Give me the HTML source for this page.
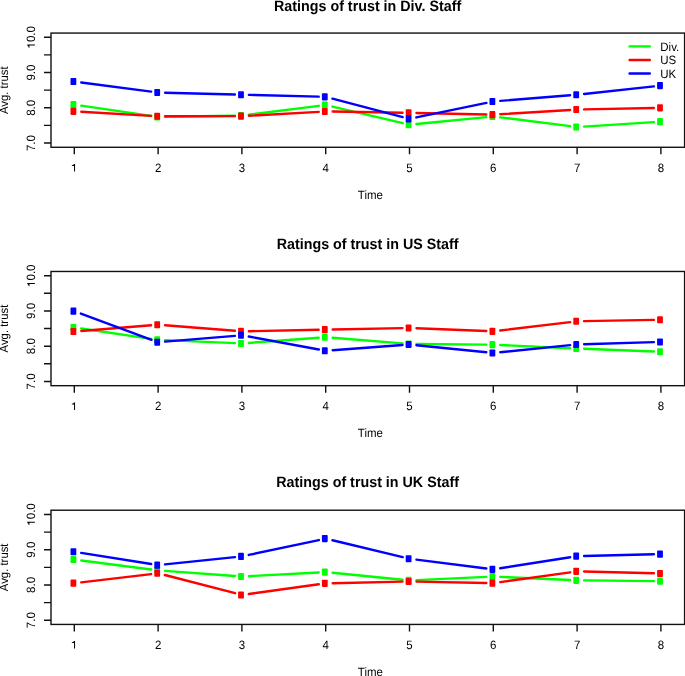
<!DOCTYPE html>
<html><head><meta charset="utf-8"><style>html,body{margin:0;padding:0;background:#fff;width:685px;height:676px;overflow:hidden}</style></head><body>
<svg width="685" height="676" viewBox="0 0 685 676" style="position:absolute;left:0;top:0;will-change:transform;text-rendering:geometricPrecision">
<rect x="0" y="0" width="685" height="676" fill="#fff"/>
<text transform="translate(367.6 10.5) scale(1 1.05)" font-family='"Liberation Sans", sans-serif' font-weight="bold" font-size="14.3" text-anchor="middle" fill="#000">Ratings of trust in Div. Staff</text>
<path d="M81.23 105.66L151.17 115.89M165.1 116.79L234.9 115.71M248.84 114.72L318.76 105.83M332.51 106.56L402.69 123.14M416.47 124.06L486.33 117.14M500.24 117.33L570.16 126.17M584.09 126.6L653.91 122.1" stroke="#00ff00" stroke-width="2.4" stroke-linecap="round" fill="none"/>
<rect x="70.5" y="101.1" width="5.8" height="7.1" rx="0.8" fill="#00ff00"/>
<rect x="154.3" y="113.35" width="5.8" height="7.1" rx="0.8" fill="#00ff00"/>
<rect x="238.1" y="112.05" width="5.8" height="7.1" rx="0.8" fill="#00ff00"/>
<rect x="321.9" y="101.4" width="5.8" height="7.1" rx="0.8" fill="#00ff00"/>
<rect x="405.7" y="121.2" width="5.8" height="7.1" rx="0.8" fill="#00ff00"/>
<rect x="489.5" y="112.9" width="5.8" height="7.1" rx="0.8" fill="#00ff00"/>
<rect x="573.3" y="123.5" width="5.8" height="7.1" rx="0.8" fill="#00ff00"/>
<rect x="657.1" y="118.1" width="5.8" height="7.1" rx="0.8" fill="#00ff00"/>
<path d="M81.29 111.76L151.11 115.84M165.1 116.24L234.9 116.16M248.89 115.76L318.71 111.84M332.7 111.57L402.5 112.73M416.5 113L486.3 114.5M500.29 114.22L570.11 109.98M584.1 109.41L653.9 107.99" stroke="#ff0000" stroke-width="2.4" stroke-linecap="round" fill="none"/>
<rect x="70.5" y="107.8" width="5.8" height="7.1" rx="0.8" fill="#ff0000"/>
<rect x="154.3" y="112.7" width="5.8" height="7.1" rx="0.8" fill="#ff0000"/>
<rect x="238.1" y="112.6" width="5.8" height="7.1" rx="0.8" fill="#ff0000"/>
<rect x="321.9" y="107.9" width="5.8" height="7.1" rx="0.8" fill="#ff0000"/>
<rect x="405.7" y="109.3" width="5.8" height="7.1" rx="0.8" fill="#ff0000"/>
<rect x="489.5" y="111.1" width="5.8" height="7.1" rx="0.8" fill="#ff0000"/>
<rect x="573.3" y="106" width="5.8" height="7.1" rx="0.8" fill="#ff0000"/>
<rect x="657.1" y="104.3" width="5.8" height="7.1" rx="0.8" fill="#ff0000"/>
<path d="M81.24 82.46L151.16 91.64M165.1 92.73L234.9 94.52M248.9 94.88L318.7 96.67M332.47 98.63L402.73 117.07M416.35 117.43L486.45 102.87M500.28 100.89L570.12 95.26M584.06 93.94L653.94 86.36" stroke="#0000ff" stroke-width="2.4" stroke-linecap="round" fill="none"/>
<rect x="70.5" y="78" width="5.8" height="7.1" rx="0.8" fill="#0000ff"/>
<rect x="154.3" y="89" width="5.8" height="7.1" rx="0.8" fill="#0000ff"/>
<rect x="238.1" y="91.15" width="5.8" height="7.1" rx="0.8" fill="#0000ff"/>
<rect x="321.9" y="93.3" width="5.8" height="7.1" rx="0.8" fill="#0000ff"/>
<rect x="405.7" y="115.3" width="5.8" height="7.1" rx="0.8" fill="#0000ff"/>
<rect x="489.5" y="97.9" width="5.8" height="7.1" rx="0.8" fill="#0000ff"/>
<rect x="573.3" y="91.15" width="5.8" height="7.1" rx="0.8" fill="#0000ff"/>
<rect x="657.1" y="82.05" width="5.8" height="7.1" rx="0.8" fill="#0000ff"/>
<rect x="51" y="33.07" width="633.6" height="114.21" fill="none" stroke="#111" stroke-width="1.4"/>
<path d="M74.3 147.28V154.28M158.1 147.28V154.28M241.9 147.28V154.28M325.7 147.28V154.28M409.5 147.28V154.28M493.3 147.28V154.28M577.1 147.28V154.28M660.9 147.28V154.28M44 37.3H51M44 54.92H51M44 72.55H51M44 90.17H51M44 107.8H51M44 125.42H51M44 143.05H51" stroke="#111" stroke-width="1.4" fill="none"/>
<path transform="translate(74.3 171.6)" d="M-0.25 -7.7L0.75 -7.7L0.75 -0.1L-0.25 -0.1L-0.25 -5.55L-2.45 -5.55L-2.45 -6.35L-1.25 -6.6Z" fill="#000"/>
<text transform="translate(158.1 171.6) scale(1 1.05)" font-family='"Liberation Sans", sans-serif' font-size="11.5" text-anchor="middle" fill="#000">2</text>
<text transform="translate(241.9 171.6) scale(1 1.05)" font-family='"Liberation Sans", sans-serif' font-size="11.5" text-anchor="middle" fill="#000">3</text>
<text transform="translate(325.7 171.6) scale(1 1.05)" font-family='"Liberation Sans", sans-serif' font-size="11.5" text-anchor="middle" fill="#000">4</text>
<text transform="translate(409.5 171.6) scale(1 1.05)" font-family='"Liberation Sans", sans-serif' font-size="11.5" text-anchor="middle" fill="#000">5</text>
<text transform="translate(493.3 171.6) scale(1 1.05)" font-family='"Liberation Sans", sans-serif' font-size="11.5" text-anchor="middle" fill="#000">6</text>
<text transform="translate(577.1 171.6) scale(1 1.05)" font-family='"Liberation Sans", sans-serif' font-size="11.5" text-anchor="middle" fill="#000">7</text>
<text transform="translate(660.9 171.6) scale(1 1.05)" font-family='"Liberation Sans", sans-serif' font-size="11.5" text-anchor="middle" fill="#000">8</text>
<g transform="translate(35 37.3) rotate(-90)"><path transform="translate(-7.99 0)" d="M-0.25 -7.7L0.75 -7.7L0.75 -0.1L-0.25 -0.1L-0.25 -5.55L-2.45 -5.55L-2.45 -6.35L-1.25 -6.6Z" fill="#000"/><text transform="translate(-4.8 0) scale(1 1.05)" font-family='"Liberation Sans", sans-serif' font-size="11.5" fill="#000">0.0</text></g>
<text transform="translate(35 72.55) rotate(-90) scale(1 1.05)" font-family='"Liberation Sans", sans-serif' font-size="11.5" text-anchor="middle" fill="#000">9.0</text>
<text transform="translate(35 107.8) rotate(-90) scale(1 1.05)" font-family='"Liberation Sans", sans-serif' font-size="11.5" text-anchor="middle" fill="#000">8.0</text>
<text transform="translate(35 143.05) rotate(-90) scale(1 1.05)" font-family='"Liberation Sans", sans-serif' font-size="11.5" text-anchor="middle" fill="#000">7.0</text>
<text transform="translate(370.4 198.6) scale(1 1.05)" font-family='"Liberation Sans", sans-serif' font-size="11.5" text-anchor="middle" fill="#000">Time</text>
<text transform="translate(8.4 90.18) rotate(-90) scale(1 1.05)" font-family='"Liberation Sans", sans-serif' font-size="11.35" text-anchor="middle" fill="#000">Avg. trust</text>
<text transform="translate(367.6 249) scale(1 1.05)" font-family='"Liberation Sans", sans-serif' font-weight="bold" font-size="14.3" text-anchor="middle" fill="#000">Ratings of trust in US Staff</text>
<path d="M81.22 328.47L151.18 338.83M165.09 340.15L234.91 343.15M248.88 342.93L318.72 337.77M332.68 337.81L402.52 343.39M416.5 344.01L486.3 344.59M500.29 344.98L570.11 348.22M584.09 348.82L653.91 351.48" stroke="#00ff00" stroke-width="2.4" stroke-linecap="round" fill="none"/>
<rect x="70.5" y="323.9" width="5.8" height="7.1" rx="0.8" fill="#00ff00"/>
<rect x="154.3" y="336.3" width="5.8" height="7.1" rx="0.8" fill="#00ff00"/>
<rect x="238.1" y="339.9" width="5.8" height="7.1" rx="0.8" fill="#00ff00"/>
<rect x="321.9" y="333.7" width="5.8" height="7.1" rx="0.8" fill="#00ff00"/>
<rect x="405.7" y="340.4" width="5.8" height="7.1" rx="0.8" fill="#00ff00"/>
<rect x="489.5" y="341.1" width="5.8" height="7.1" rx="0.8" fill="#00ff00"/>
<rect x="573.3" y="345" width="5.8" height="7.1" rx="0.8" fill="#00ff00"/>
<rect x="657.1" y="348.2" width="5.8" height="7.1" rx="0.8" fill="#00ff00"/>
<path d="M81.28 330.98L151.12 325.32M165.08 325.3L234.92 330.8M248.9 331.21L318.7 329.79M332.7 329.51L402.5 328.09M416.49 328.23L486.31 331.07M500.25 330.51L570.15 322.09M584.1 321.12L653.9 319.88" stroke="#ff0000" stroke-width="2.4" stroke-linecap="round" fill="none"/>
<rect x="70.5" y="328" width="5.8" height="7.1" rx="0.8" fill="#ff0000"/>
<rect x="154.3" y="321.2" width="5.8" height="7.1" rx="0.8" fill="#ff0000"/>
<rect x="238.1" y="327.8" width="5.8" height="7.1" rx="0.8" fill="#ff0000"/>
<rect x="321.9" y="326.1" width="5.8" height="7.1" rx="0.8" fill="#ff0000"/>
<rect x="405.7" y="324.4" width="5.8" height="7.1" rx="0.8" fill="#ff0000"/>
<rect x="489.5" y="327.8" width="5.8" height="7.1" rx="0.8" fill="#ff0000"/>
<rect x="573.3" y="317.7" width="5.8" height="7.1" rx="0.8" fill="#ff0000"/>
<rect x="657.1" y="316.2" width="5.8" height="7.1" rx="0.8" fill="#ff0000"/>
<path d="M80.86 313.59L151.54 339.81M165.08 341.67L234.92 335.83M248.78 336.52L318.82 349.48M332.68 350.23L402.52 345.02M416.46 345.2L486.34 352.25M500.26 352.24L570.14 345.16M584.1 344.24L653.9 342.16" stroke="#0000ff" stroke-width="2.4" stroke-linecap="round" fill="none"/>
<rect x="70.5" y="307.6" width="5.8" height="7.1" rx="0.8" fill="#0000ff"/>
<rect x="154.3" y="338.7" width="5.8" height="7.1" rx="0.8" fill="#0000ff"/>
<rect x="238.1" y="331.7" width="5.8" height="7.1" rx="0.8" fill="#0000ff"/>
<rect x="321.9" y="347.2" width="5.8" height="7.1" rx="0.8" fill="#0000ff"/>
<rect x="405.7" y="340.95" width="5.8" height="7.1" rx="0.8" fill="#0000ff"/>
<rect x="489.5" y="349.4" width="5.8" height="7.1" rx="0.8" fill="#0000ff"/>
<rect x="573.3" y="340.9" width="5.8" height="7.1" rx="0.8" fill="#0000ff"/>
<rect x="657.1" y="338.4" width="5.8" height="7.1" rx="0.8" fill="#0000ff"/>
<rect x="51" y="271.47" width="633.6" height="114.21" fill="none" stroke="#111" stroke-width="1.4"/>
<path d="M74.3 385.68V392.68M158.1 385.68V392.68M241.9 385.68V392.68M325.7 385.68V392.68M409.5 385.68V392.68M493.3 385.68V392.68M577.1 385.68V392.68M660.9 385.68V392.68M44 275.7H51M44 293.32H51M44 310.95H51M44 328.57H51M44 346.2H51M44 363.82H51M44 381.45H51" stroke="#111" stroke-width="1.4" fill="none"/>
<path transform="translate(74.3 410.1)" d="M-0.25 -7.7L0.75 -7.7L0.75 -0.1L-0.25 -0.1L-0.25 -5.55L-2.45 -5.55L-2.45 -6.35L-1.25 -6.6Z" fill="#000"/>
<text transform="translate(158.1 410.1) scale(1 1.05)" font-family='"Liberation Sans", sans-serif' font-size="11.5" text-anchor="middle" fill="#000">2</text>
<text transform="translate(241.9 410.1) scale(1 1.05)" font-family='"Liberation Sans", sans-serif' font-size="11.5" text-anchor="middle" fill="#000">3</text>
<text transform="translate(325.7 410.1) scale(1 1.05)" font-family='"Liberation Sans", sans-serif' font-size="11.5" text-anchor="middle" fill="#000">4</text>
<text transform="translate(409.5 410.1) scale(1 1.05)" font-family='"Liberation Sans", sans-serif' font-size="11.5" text-anchor="middle" fill="#000">5</text>
<text transform="translate(493.3 410.1) scale(1 1.05)" font-family='"Liberation Sans", sans-serif' font-size="11.5" text-anchor="middle" fill="#000">6</text>
<text transform="translate(577.1 410.1) scale(1 1.05)" font-family='"Liberation Sans", sans-serif' font-size="11.5" text-anchor="middle" fill="#000">7</text>
<text transform="translate(660.9 410.1) scale(1 1.05)" font-family='"Liberation Sans", sans-serif' font-size="11.5" text-anchor="middle" fill="#000">8</text>
<g transform="translate(35 275.7) rotate(-90)"><path transform="translate(-7.99 0)" d="M-0.25 -7.7L0.75 -7.7L0.75 -0.1L-0.25 -0.1L-0.25 -5.55L-2.45 -5.55L-2.45 -6.35L-1.25 -6.6Z" fill="#000"/><text transform="translate(-4.8 0) scale(1 1.05)" font-family='"Liberation Sans", sans-serif' font-size="11.5" fill="#000">0.0</text></g>
<text transform="translate(35 310.95) rotate(-90) scale(1 1.05)" font-family='"Liberation Sans", sans-serif' font-size="11.5" text-anchor="middle" fill="#000">9.0</text>
<text transform="translate(35 346.2) rotate(-90) scale(1 1.05)" font-family='"Liberation Sans", sans-serif' font-size="11.5" text-anchor="middle" fill="#000">8.0</text>
<text transform="translate(35 381.45) rotate(-90) scale(1 1.05)" font-family='"Liberation Sans", sans-serif' font-size="11.5" text-anchor="middle" fill="#000">7.0</text>
<text transform="translate(370.4 437.1) scale(1 1.05)" font-family='"Liberation Sans", sans-serif' font-size="11.5" text-anchor="middle" fill="#000">Time</text>
<text transform="translate(8.4 328.57) rotate(-90) scale(1 1.05)" font-family='"Liberation Sans", sans-serif' font-size="11.35" text-anchor="middle" fill="#000">Avg. trust</text>
<text transform="translate(367.6 487.3) scale(1 1.05)" font-family='"Liberation Sans", sans-serif' font-weight="bold" font-size="14.3" text-anchor="middle" fill="#000">Ratings of trust in UK Staff</text>
<path d="M81.24 560.44L151.16 569.46M165.08 570.87L234.92 576.03M248.89 576.18L318.71 572.47M332.67 572.79L402.53 579.71M416.49 580.08L486.31 576.87M500.29 576.87L570.11 580.03M584.1 580.42L653.9 581.08" stroke="#00ff00" stroke-width="2.4" stroke-linecap="round" fill="none"/>
<rect x="70.5" y="556" width="5.8" height="7.1" rx="0.8" fill="#00ff00"/>
<rect x="154.3" y="566.8" width="5.8" height="7.1" rx="0.8" fill="#00ff00"/>
<rect x="238.1" y="573" width="5.8" height="7.1" rx="0.8" fill="#00ff00"/>
<rect x="321.9" y="568.55" width="5.8" height="7.1" rx="0.8" fill="#00ff00"/>
<rect x="405.7" y="576.85" width="5.8" height="7.1" rx="0.8" fill="#00ff00"/>
<rect x="489.5" y="573" width="5.8" height="7.1" rx="0.8" fill="#00ff00"/>
<rect x="573.3" y="576.8" width="5.8" height="7.1" rx="0.8" fill="#00ff00"/>
<rect x="657.1" y="577.6" width="5.8" height="7.1" rx="0.8" fill="#00ff00"/>
<path d="M81.25 582.33L151.15 574.07M164.88 575L235.12 593.2M248.83 593.99L318.77 584.31M332.7 583.19L402.5 581.61M416.5 581.59L486.3 583.01M500.23 582.17L570.17 572.33M584.1 571.53L653.9 573.27" stroke="#ff0000" stroke-width="2.4" stroke-linecap="round" fill="none"/>
<rect x="70.5" y="579.6" width="5.8" height="7.1" rx="0.8" fill="#ff0000"/>
<rect x="154.3" y="569.7" width="5.8" height="7.1" rx="0.8" fill="#ff0000"/>
<rect x="238.1" y="591.4" width="5.8" height="7.1" rx="0.8" fill="#ff0000"/>
<rect x="321.9" y="579.8" width="5.8" height="7.1" rx="0.8" fill="#ff0000"/>
<rect x="405.7" y="577.9" width="5.8" height="7.1" rx="0.8" fill="#ff0000"/>
<rect x="489.5" y="579.6" width="5.8" height="7.1" rx="0.8" fill="#ff0000"/>
<rect x="573.3" y="567.8" width="5.8" height="7.1" rx="0.8" fill="#ff0000"/>
<rect x="657.1" y="569.9" width="5.8" height="7.1" rx="0.8" fill="#ff0000"/>
<path d="M81.21 552.9L151.19 564.05M165.06 564.42L234.94 557.13M248.75 554.95L318.85 540.05M332.51 540.24L402.69 557.11M416.44 559.63L486.36 568.47M500.21 568.26L570.19 557.24M584.1 555.98L653.9 554.32" stroke="#0000ff" stroke-width="2.4" stroke-linecap="round" fill="none"/>
<rect x="70.5" y="548.25" width="5.8" height="7.1" rx="0.8" fill="#0000ff"/>
<rect x="154.3" y="561.6" width="5.8" height="7.1" rx="0.8" fill="#0000ff"/>
<rect x="238.1" y="552.85" width="5.8" height="7.1" rx="0.8" fill="#0000ff"/>
<rect x="321.9" y="535.05" width="5.8" height="7.1" rx="0.8" fill="#0000ff"/>
<rect x="405.7" y="555.2" width="5.8" height="7.1" rx="0.8" fill="#0000ff"/>
<rect x="489.5" y="565.8" width="5.8" height="7.1" rx="0.8" fill="#0000ff"/>
<rect x="573.3" y="552.6" width="5.8" height="7.1" rx="0.8" fill="#0000ff"/>
<rect x="657.1" y="550.6" width="5.8" height="7.1" rx="0.8" fill="#0000ff"/>
<rect x="51" y="510.22" width="633.6" height="114.21" fill="none" stroke="#111" stroke-width="1.4"/>
<path d="M74.3 624.43V631.43M158.1 624.43V631.43M241.9 624.43V631.43M325.7 624.43V631.43M409.5 624.43V631.43M493.3 624.43V631.43M577.1 624.43V631.43M660.9 624.43V631.43M44 514.45H51M44 532.08H51M44 549.7H51M44 567.33H51M44 584.95H51M44 602.58H51M44 620.2H51" stroke="#111" stroke-width="1.4" fill="none"/>
<path transform="translate(74.3 648.6)" d="M-0.25 -7.7L0.75 -7.7L0.75 -0.1L-0.25 -0.1L-0.25 -5.55L-2.45 -5.55L-2.45 -6.35L-1.25 -6.6Z" fill="#000"/>
<text transform="translate(158.1 648.6) scale(1 1.05)" font-family='"Liberation Sans", sans-serif' font-size="11.5" text-anchor="middle" fill="#000">2</text>
<text transform="translate(241.9 648.6) scale(1 1.05)" font-family='"Liberation Sans", sans-serif' font-size="11.5" text-anchor="middle" fill="#000">3</text>
<text transform="translate(325.7 648.6) scale(1 1.05)" font-family='"Liberation Sans", sans-serif' font-size="11.5" text-anchor="middle" fill="#000">4</text>
<text transform="translate(409.5 648.6) scale(1 1.05)" font-family='"Liberation Sans", sans-serif' font-size="11.5" text-anchor="middle" fill="#000">5</text>
<text transform="translate(493.3 648.6) scale(1 1.05)" font-family='"Liberation Sans", sans-serif' font-size="11.5" text-anchor="middle" fill="#000">6</text>
<text transform="translate(577.1 648.6) scale(1 1.05)" font-family='"Liberation Sans", sans-serif' font-size="11.5" text-anchor="middle" fill="#000">7</text>
<text transform="translate(660.9 648.6) scale(1 1.05)" font-family='"Liberation Sans", sans-serif' font-size="11.5" text-anchor="middle" fill="#000">8</text>
<g transform="translate(35 514.45) rotate(-90)"><path transform="translate(-7.99 0)" d="M-0.25 -7.7L0.75 -7.7L0.75 -0.1L-0.25 -0.1L-0.25 -5.55L-2.45 -5.55L-2.45 -6.35L-1.25 -6.6Z" fill="#000"/><text transform="translate(-4.8 0) scale(1 1.05)" font-family='"Liberation Sans", sans-serif' font-size="11.5" fill="#000">0.0</text></g>
<text transform="translate(35 549.7) rotate(-90) scale(1 1.05)" font-family='"Liberation Sans", sans-serif' font-size="11.5" text-anchor="middle" fill="#000">9.0</text>
<text transform="translate(35 584.95) rotate(-90) scale(1 1.05)" font-family='"Liberation Sans", sans-serif' font-size="11.5" text-anchor="middle" fill="#000">8.0</text>
<text transform="translate(35 620.2) rotate(-90) scale(1 1.05)" font-family='"Liberation Sans", sans-serif' font-size="11.5" text-anchor="middle" fill="#000">7.0</text>
<text transform="translate(370.4 675.6) scale(1 1.05)" font-family='"Liberation Sans", sans-serif' font-size="11.5" text-anchor="middle" fill="#000">Time</text>
<text transform="translate(8.4 567.33) rotate(-90) scale(1 1.05)" font-family='"Liberation Sans", sans-serif' font-size="11.35" text-anchor="middle" fill="#000">Avg. trust</text>
<path d="M629.6 46.4H649.8" stroke="#00ff00" stroke-width="2.4" stroke-linecap="round"/>
<text transform="translate(660.3 50.65) scale(1 1.05)" font-family='"Liberation Sans", sans-serif' font-size="11.5" fill="#000">Div.</text>
<path d="M629.6 59.95H649.8" stroke="#ff0000" stroke-width="2.4" stroke-linecap="round"/>
<text transform="translate(660.3 64.2) scale(1 1.05)" font-family='"Liberation Sans", sans-serif' font-size="11.5" fill="#000">US</text>
<path d="M629.6 73.5H649.8" stroke="#0000ff" stroke-width="2.4" stroke-linecap="round"/>
<text transform="translate(660.3 77.75) scale(1 1.05)" font-family='"Liberation Sans", sans-serif' font-size="11.5" fill="#000">UK</text>
</svg>
</body></html>
